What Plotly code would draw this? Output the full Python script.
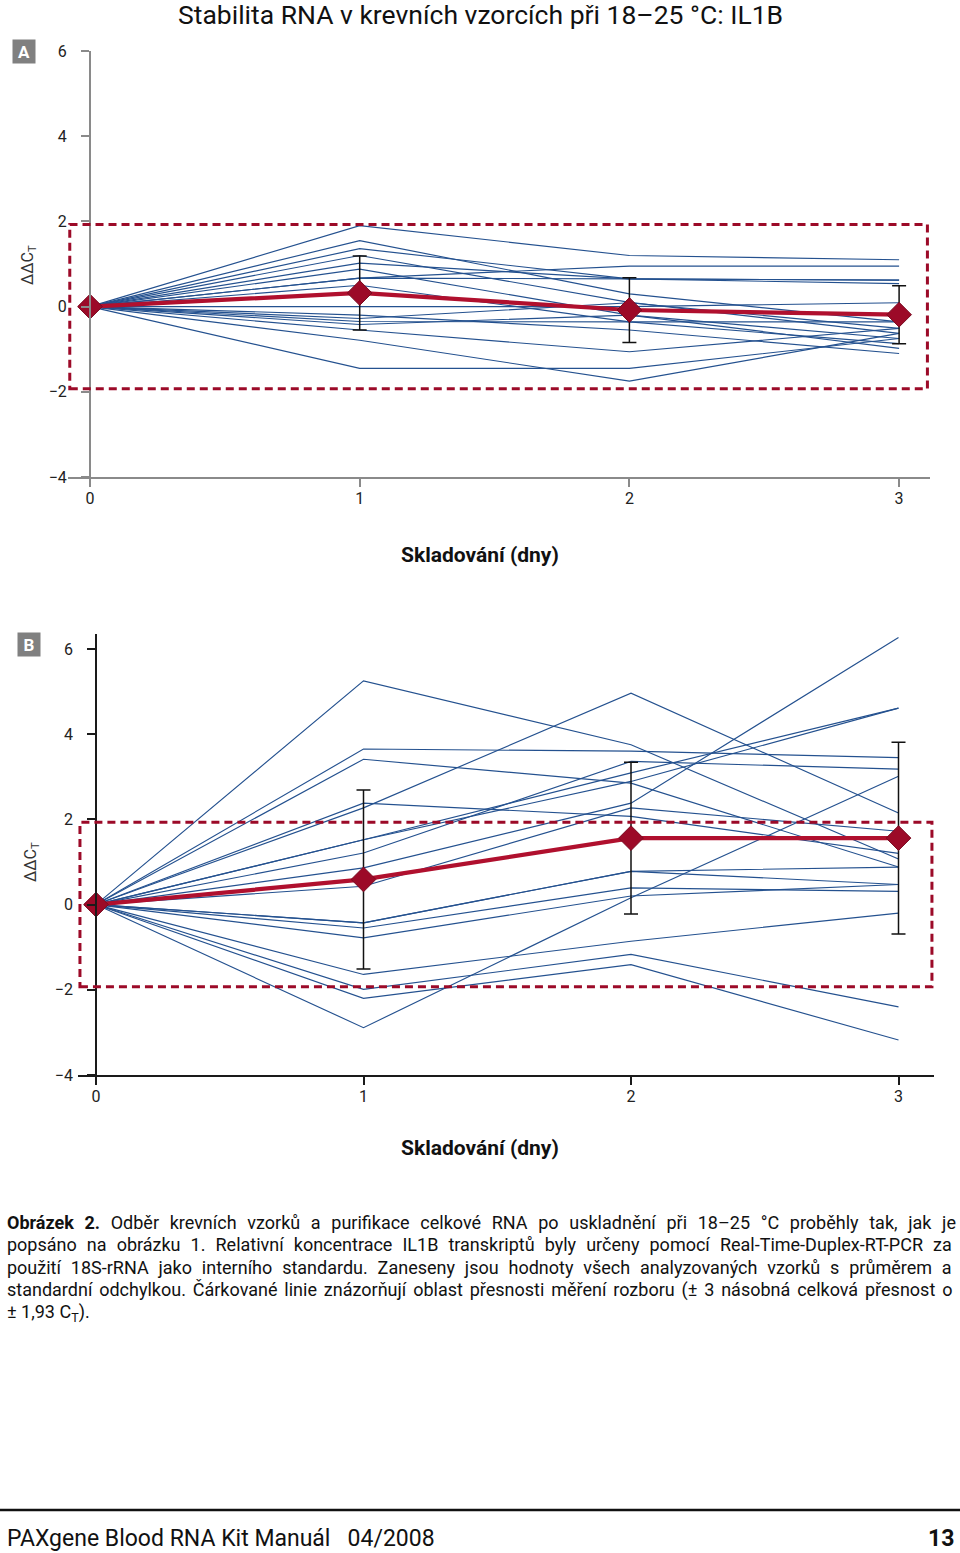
import plotly.graph_objects as go

W, H = 960, 1553

# ---------------- data ----------------
DAYS = [0, 1, 2, 3]
X_TICK_LABELS = ["0", "1", "2", "3"]
Y_TICKS = [-4, -2, 0, 2, 4, 6]
Y_TICK_LABELS = ["−4", "−2", "0", "2", "4", "6"]
LIMIT = 1.93  # ± assay precision band

# Panel A – individual samples (value at day 0 is 0 for all)
A_DAY1 = [1.90, 1.55, 1.36, 1.20, 1.02, 0.88, 0.67, 0.67, 0.50, 0.00, -0.20, -0.28, -0.35, -0.42, -0.55, -0.79, -1.45]
A_DAY2 = [1.20, 0.30, 0.65, 0.10, 0.65, -0.20, 0.95, 0.65, -0.36, 0.00, -0.55, 0.09, -0.36, -0.20, -1.06, -1.75, -1.45]
A_DAY3 = [1.10, -0.36, 0.62, -0.63, 0.54, -0.98, 0.95, 0.62, -0.87, 0.09, -1.10, -0.51, -0.36, -0.75, -0.51, -0.63, -0.75]
A_MEAN = [0.00, 0.32, -0.08, -0.19]
A_SD = [0.00, 0.87, 0.76, 0.68]

# Panel B – individual samples
B_DAY1 = [5.25, 2.27, 3.65, 3.41, 2.38, 1.52, 1.52, 0.86, 1.21, 0.43, -0.43, -0.43, -0.55, -0.78, -1.64, -1.99, -2.20, -2.89]
B_DAY2 = [3.75, 4.96, 3.60, 2.85, 2.07, 2.89, 3.09, 2.38, 3.36, 2.27, 0.78, 0.78, 0.39, 0.20, -0.86, -1.17, -1.41, 0.16]
B_DAY3 = [1.07, 2.15, 3.45, 0.88, 1.20, 4.61, 4.61, 6.27, 3.18, 1.72, 0.88, 0.47, 0.31, 0.47, -0.20, -2.40, -3.18, 3.01]
B_MEAN = [0.00, 0.59, 1.56, 1.56]
B_SD = [0.00, 2.10, 1.78, 2.25]

TITLE = "Stabilita RNA v krevních vzorcích při 18–25 °C: IL1B"
X_TITLE = "Skladování (dny)"
Y_TITLE = "ΔΔC<sub>T</sub>"
CAPTION = [
    "<b>Obrázek 2.</b> Odběr krevních vzorků a purifikace celkové RNA po uskladnění při 18–25 °C proběhly tak, jak je",
    "popsáno na obrázku 1. Relativní koncentrace IL1B transkriptů byly určeny pomocí Real-Time-Duplex-RT-PCR za",
    "použití 18S-rRNA jako interního standardu. Zaneseny jsou hodnoty všech analyzovaných vzorků s průměrem a",
    "standardní odchylkou. Čárkované linie znázorňují oblast přesnosti měření rozboru (± 3 násobná celková přesnost o",
    "± 1,93 C<sub>T</sub>).",
]
CAPTION_WORD_SPACING = [6.2, 5.6, 5.4, 2.4, 0]   # emulates justified lines
FOOTER_LEFT = "PAXgene Blood RNA Kit Manuál   04/2008"
FOOTER_RIGHT = "<b>13</b>"

# ---------------- styling / layout ----------------
FONT = "Roboto, 'Liberation Sans', sans-serif"
BLUE = "#24518f"
RED = "#b0102e"
RED_DARK = "#9c0a28"

PANELS = {
    "A": dict(left=68, right=930, top=51, bottom=477, x0=90, xscale=269.7,
              yr=[-4, 6], box_x=[-0.075, 3.105], axcol="#8a8a8a", lw=2,
              day1=A_DAY1, day2=A_DAY2, day3=A_DAY3, mean=A_MEAN, sd=A_SD,
              xs="x", ys="y", label_xy=(24, 51), ytitle_xy=(28, 265), xtitle_y=555),
    "B": dict(left=78, right=934, top=634, bottom=1075, x0=96, xscale=267.5,
              yr=[-4, 6.35], box_x=[-0.06, 3.125], axcol="#1a1a1a", lw=1.6,
              day1=B_DAY1, day2=B_DAY2, day3=B_DAY3, mean=B_MEAN, sd=B_SD,
              xs="x2", ys="y2", label_xy=(29, 644), ytitle_xy=(32, 862), xtitle_y=1148),
}

fig = go.Figure()
layout = dict(width=W, height=H, margin=dict(l=0, r=0, t=0, b=0, autoexpand=False),
              paper_bgcolor="white", plot_bgcolor="rgba(0,0,0,0)",
              showlegend=False, font=dict(family=FONT, color="#111"))
annotations = []
shapes = []


def ann(text, x, y, size, color="#111", xanchor="center", **kw):
    d = dict(text=text, x=x / W, y=1 - y / H, xref="paper", yref="paper",
             xanchor=xanchor, yanchor="middle", showarrow=False,
             font=dict(size=size, color=color, family=FONT))
    d.update(kw)
    annotations.append(d)


for i, (name, p) in enumerate(PANELS.items()):
    # sample lines
    for d1, d2, d3 in zip(p["day1"], p["day2"], p["day3"]):
        fig.add_trace(go.Scatter(x=DAYS, y=[0, d1, d2, d3], mode="lines",
                                 line=dict(color=BLUE, width=1.15),
                                 xaxis=p["xs"], yaxis=p["ys"], hoverinfo="skip"))
    # mean line with SD
    fig.add_trace(go.Scatter(x=DAYS, y=p["mean"], mode="lines",
                             line=dict(color=RED, width=4.2),
                             error_y=dict(type="data", array=p["sd"], visible=True,
                                          color="#111", thickness=1.5, width=7),
                             xaxis=p["xs"], yaxis=p["ys"]))
    fig.add_trace(go.Scatter(x=DAYS, y=p["mean"], mode="markers",
                             marker=dict(symbol="diamond", size=19, color=RED_DARK,
                                         line=dict(color="#7a0a20", width=1)),
                             xaxis=p["xs"], yaxis=p["ys"]))

    xr = [(p["left"] - p["x0"]) / p["xscale"], (p["right"] - p["x0"]) / p["xscale"]]
    xkey = "xaxis" if i == 0 else "xaxis2"
    ykey = "yaxis" if i == 0 else "yaxis2"
    layout[xkey] = dict(domain=[p["left"] / W, p["right"] / W], range=xr,
                        anchor=p["ys"], showline=True, linecolor=p["axcol"],
                        linewidth=p["lw"], ticks="outside", ticklen=8,
                        tickcolor=p["axcol"], tickwidth=1.5,
                        tickvals=DAYS, ticktext=X_TICK_LABELS,
                        tickfont=dict(size=16, color="#222"), ticklabelstandoff=-2,
                        showgrid=False, zeroline=False, fixedrange=True)
    layout[ykey] = dict(domain=[1 - p["bottom"] / H, 1 - p["top"] / H], range=p["yr"],
                        anchor="free", position=p["x0"] / W, showline=True,
                        linecolor=p["axcol"], linewidth=p["lw"], ticks="outside",
                        ticklen=8, tickcolor=p["axcol"], tickwidth=1.5,
                        tickvals=Y_TICKS, ticktext=Y_TICK_LABELS,
                        tickfont=dict(size=16, color="#222"), ticklabelstandoff=11,
                        showgrid=False, zeroline=False, fixedrange=True)

    # precision band
    shapes.append(dict(type="rect", xref=p["xs"], yref=p["ys"],
                       x0=p["box_x"][0], x1=p["box_x"][1], y0=-LIMIT, y1=LIMIT,
                       line=dict(color=RED_DARK, width=3, dash="8px,5px"),
                       fillcolor="rgba(0,0,0,0)", layer="above"))

    lx, ly = p["label_xy"]
    ann("<b>%s</b>" % name, lx, ly, 17, color="white", bgcolor="#808080",
        borderpad=1, width=20, height=21)
    tx, ty = p["ytitle_xy"]
    ann(Y_TITLE, tx, ty, 16, color="#333", textangle=-90)
    ann("<b>%s</b>" % X_TITLE, 480, p["xtitle_y"], 21)

# title
ann(TITLE, 480, 15, 26.5)
# caption (each line justified via word spacing)
for k, line in enumerate(CAPTION):
    ws = CAPTION_WORD_SPACING[k]
    txt = '<span style="word-spacing:%.1fpx">%s</span>' % (ws, line) if ws else line
    ann(txt, 5, 1222 + 22.8 * k, 18, xanchor="left")
# footer
shapes.append(dict(type="line", xref="paper", yref="paper", x0=0, x1=1,
                   y0=1 - 1510 / H, y1=1 - 1510 / H, line=dict(color="#111", width=2.5)))
ann(FOOTER_LEFT, 5, 1538, 23, xanchor="left")
ann(FOOTER_RIGHT, 956, 1538, 23, xanchor="right")

layout["annotations"] = annotations
layout["shapes"] = shapes
fig.update_layout(**layout)
fig.write_html("out.html", config={"displayModeBar": False},
               post_script="document.body.style.margin='0';")
